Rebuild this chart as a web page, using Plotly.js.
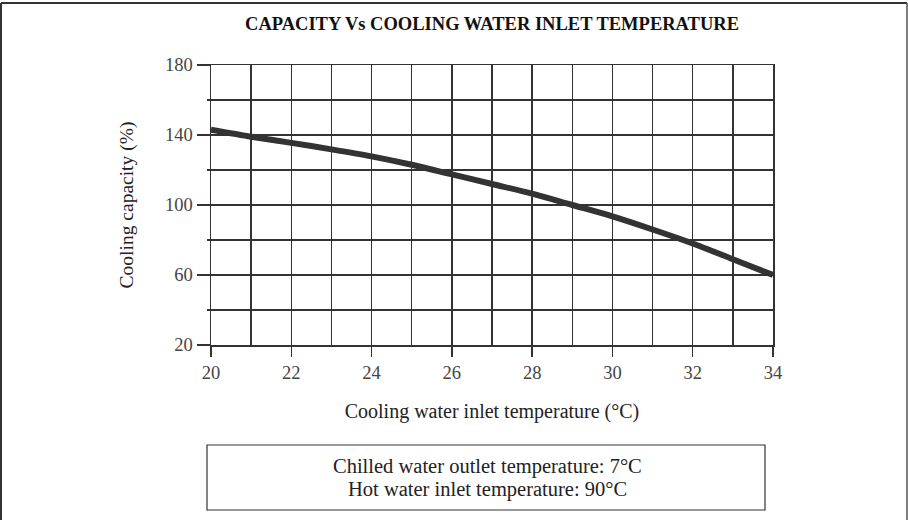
<!DOCTYPE html>
<html>
<head>
<meta charset="utf-8">
<script src="https://cdn.plot.ly/plotly-3.0.1.min.js"></script>
<style>
html,body{margin:0;padding:0;background:#fff;}
#chart{width:908px;height:520px;}
</style>
</head>
<body>
<div id="chart"></div>
<script>
// Data
const temperature = [20, 21, 22, 23, 24, 25, 26, 27, 28, 29, 30, 31, 32, 33, 34];
const capacity = [143, 139, 135.5, 131.8, 127.8, 123, 117.5, 112, 106.5, 100, 93.5, 86, 78, 69, 60];
const xTicks = [20, 22, 24, 26, 28, 30, 32, 34];
const yTicks = [20, 60, 100, 140, 180];
const chartTitle = "CAPACITY Vs COOLING WATER INLET TEMPERATURE";
const xTitle = "Cooling water inlet temperature (°C)";
const yTitle = "Cooling capacity (%)";
const noteLines = ["Chilled water outlet temperature: 7°C", "Hot water inlet temperature: 90°C"];

const W = 908, H = 520;
const L = 211, R = 773, T = 65, B = 345;
const pw = R - L, ph = B - T;
const px = x => (x - L) / pw;
const py = y => (B - y) / ph;

const FONT = "Liberation Serif, Times New Roman, serif";
const ink = "#333";

const trace = {
  x: temperature, y: capacity, type: "scatter", mode: "lines",
  line: {color: ink, width: 6, shape: "spline", smoothing: 0.8},
  hoverinfo: "x+y", showlegend: false
};

const noteY = [466, 489];

const layout = {
  width: W, height: H,
  margin: {l: L, r: W - R, t: T, b: H - B, pad: 0},
  paper_bgcolor: "#fff", plot_bgcolor: "#fff",
  font: {family: FONT, color: "#333", size: 18},
  title: {text: "<b>" + chartTitle + "</b>", font: {family: FONT, size: 18.5, color: "#111"},
          x: 0.5, xref: "paper", xanchor: "center", y: 1 - 24 / H, yref: "container", yanchor: "middle"},
  xaxis: {
    range: [20, 34], tickvals: xTicks, ticktext: xTicks.map(String),
    ticks: "outside", ticklen: 10, tickwidth: 1.3, tickcolor: ink,
    showgrid: true, gridcolor: ink, gridwidth: 1.3,
    minor: {dtick: 1, tick0: 20, showgrid: true, gridcolor: ink, gridwidth: 1.3, ticklen: 0},
    showline: true, linecolor: ink, linewidth: 1.5, mirror: true,
    zeroline: false, fixedrange: true,
    tickfont: {family: FONT, size: 18.5, color: "#444"},
    title: {text: xTitle, font: {family: FONT, size: 20, color: "#222"}, standoff: 22}
  },
  yaxis: {
    range: [20, 180], tickvals: yTicks, ticktext: yTicks.map(String),
    ticks: "outside", ticklen: 13, tickwidth: 1.3, tickcolor: ink,
    showgrid: true, gridcolor: ink, gridwidth: 1.3,
    minor: {dtick: 20, tick0: 20, showgrid: true, gridcolor: ink, gridwidth: 1.3, ticklen: 3, tickcolor: ink, ticks: "outside"},
    showline: true, linecolor: ink, linewidth: 1.5, mirror: true,
    zeroline: false, fixedrange: true,
    tickfont: {family: FONT, size: 18.5, color: "#444"},
    title: {text: yTitle, font: {family: FONT, size: 19.5, color: "#222"}, standoff: 26}
  },
  shapes: [
    // outer frame (top, left, right)
    {type: "line", xref: "paper", yref: "paper", x0: px(1), x1: px(907), y0: py(3), y1: py(3), line: {color: "#333", width: 2}},
    {type: "line", xref: "paper", yref: "paper", x0: px(1), x1: px(1), y0: py(3), y1: py(520), line: {color: "#333", width: 2}},
    {type: "line", xref: "paper", yref: "paper", x0: px(907), x1: px(907), y0: py(3), y1: py(520), line: {color: "#555", width: 1.5}},
    // note box
    {type: "rect", xref: "paper", yref: "paper", x0: px(207), x1: px(765), y0: py(510), y1: py(445), line: {color: "#333", width: 1.2}, fillcolor: "rgba(0,0,0,0)"}
  ],
  annotations: noteLines.map((t, i) => ({
    xref: "paper", yref: "paper", x: px(487), y: py(noteY[i]), xanchor: "center", yanchor: "middle",
    text: t, showarrow: false, align: "center",
    font: {family: FONT, size: 20.5, color: "#222"}
  }))
};

Plotly.newPlot("chart", [trace], layout, {displayModeBar: false, staticPlot: true});
</script>
</body>
</html>
